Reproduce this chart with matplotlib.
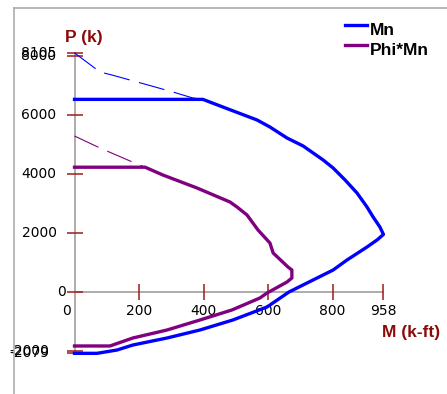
import matplotlib
matplotlib.use("Agg")
import matplotlib.pyplot as plt
from matplotlib.lines import Line2D

plt.rcParams['lines.scale_dashes'] = False

# ---- data ----
mn_M = [0, 70, 132, 181, 287, 389, 491, 597, 665, 802, 845, 907, 938, 958,
        947, 926, 907, 876, 839, 802, 771, 740, 709, 659, 606, 566, 460, 398, 0]
mn_P = [-2079, -2079, -1966, -1797, -1559, -1288, -949, -508, 0, 746, 1085, 1525, 1763, 1950,
        2203, 2542, 2881, 3356, 3797, 4203, 4475, 4712, 4949, 5220, 5593, 5831, 6271, 6530, 6530]

phi_M = [0, 110, 181, 287, 389, 488, 575, 597, 659, 674, 674, 662, 616, 606,
         569, 535, 504, 482, 380, 274, 219, 0]
phi_P = [-1830, -1830, -1559, -1288, -949, -610, -203, -34, 339, 475, 746, 847, 1322, 1661,
         2102, 2610, 2881, 3051, 3525, 3966, 4230, 4230]

mn_dash_M = [0, 79, 116, 194, 228, 305, 367, 398]
mn_dash_P = [8105, 7458, 7356, 7119, 7017, 6780, 6576, 6530]

phi_dash_M = [0, 79, 194, 219]
phi_dash_P = [5288, 4881, 4339, 4230]

x_ticks = [200, 400, 600, 800, 958]
x_tick_labels = ['200', '400', '600', '800', '958']
y_ticks = [-2079, -2000, 0, 2000, 4000, 6000, 8000, 8105]
y_tick_labels = ['-2079', '-2000', '0', '2000', '4000', '6000', '8000', '8105']

legend_labels = ['Mn', 'Phi*Mn']
x_label = 'M (k-ft)'
y_label = 'P (k)'

BLUE = '#0000FF'
PURPLE = '#800080'
RED = '#9b1c1c'
LABEL_RED = '#8b0a0a'
GRAY = '#a6a6a6'

W, H = 447, 394
fig = plt.figure(figsize=(W / 100, H / 100), dpi=100)

def fx(px):
    return px / W

def fy(py):
    return 1 - py / H

# axes placement: x px = 74.5 + 0.3225*M ; y px = 292 - 0.0295*P
xlim = (-100, 1150)
ylim = (-3000, 9000)
left_px = 74.5 + 0.3225 * xlim[0]
right_px = 74.5 + 0.3225 * xlim[1]
bot_px = 292 - 0.0295 * ylim[0]
top_px = 292 - 0.0295 * ylim[1]
ax = fig.add_axes([fx(left_px), fy(bot_px), (right_px - left_px) / W, (bot_px - top_px) / H])
ax.set_xlim(*xlim)
ax.set_ylim(*ylim)
ax.patch.set_visible(False)

for s in ['top', 'right']:
    ax.spines[s].set_visible(False)
ax.spines['left'].set_position(('data', 0))
ax.spines['bottom'].set_position(('data', 0))
ax.spines['left'].set_bounds(-2079, 8105)
ax.spines['bottom'].set_bounds(0, 958)
for s in ['left', 'bottom']:
    ax.spines[s].set_color(GRAY)
    ax.spines[s].set_linewidth(1.3)
    ax.spines[s].set_zorder(1)

ax.set_xticks(x_ticks)
ax.set_xticklabels(x_tick_labels)
ax.set_yticks(y_ticks)
ax.set_yticklabels([''] * len(y_ticks))
ax.tick_params(axis='both', direction='inout', length=11.5, width=1.1, color=RED)
ax.tick_params(axis='x', labelsize=10, pad=3.2, labelcolor='black')
ax.tick_params(axis='y', labelleft=False)

# y tick labels (manually offset like the reference)
y_offsets_px = {'-2079': -25, '-2000': -25, '0': -9}
for v, lab in zip(y_ticks, y_tick_labels):
    off = y_offsets_px.get(lab, -18)
    ax.annotate(lab, xy=(0, v), xycoords='data', xytext=(off / 1.389, 0),
                textcoords='offset points', ha='right', va='center',
                fontsize=10, color='black')
# x "0" label
ax.annotate('0', xy=(0, 0), xycoords='data', xytext=(-8 / 1.389, -19.5 / 1.389),
            textcoords='offset points', ha='center', va='center', fontsize=10, color='black')

# curves
ax.plot(mn_dash_M, mn_dash_P, color=BLUE, lw=0.8, dashes=(19, 7), zorder=3)
ax.plot(phi_dash_M, phi_dash_P, color=PURPLE, lw=0.8, dashes=(19, 7), zorder=3)
ax.plot(phi_M, phi_P, color=PURPLE, lw=2.4, zorder=4, solid_joinstyle='round')
ax.plot(mn_M, mn_P, color=BLUE, lw=2.4, zorder=5, solid_joinstyle='round')

# axis titles
bold = dict(family=['Liberation Sans', 'DejaVu Sans'], fontweight='bold')
fig.text(fx(65), fy(42), y_label, ha='left', va='baseline', fontsize=12.5, color=LABEL_RED, **bold)
fig.text(fx(382), fy(337), x_label, ha='left', va='baseline', fontsize=12.5, color=LABEL_RED, **bold)

# legend
for i, (lab, col) in enumerate(zip(legend_labels, [BLUE, PURPLE])):
    yl = 25 + 20 * i
    fig.add_artist(Line2D([fx(345), fx(367)], [fy(yl), fy(yl)], color=col, lw=2.4,
                          transform=fig.transFigure))
    fig.text(fx(370), fy(yl + 10), lab, ha='left', va='baseline', fontsize=12.5,
             color='black', **bold)

# outer frame (cut at right/bottom)
fig.add_artist(Line2D([fx(14), fx(14)], [fy(8), fy(H + 5)], color=GRAY, lw=1.1,
                      transform=fig.transFigure))
fig.add_artist(Line2D([fx(14), fx(W + 5)], [fy(8), fy(8)], color=GRAY, lw=1.1,
                      transform=fig.transFigure))

fig.savefig('out.png', dpi=100)
